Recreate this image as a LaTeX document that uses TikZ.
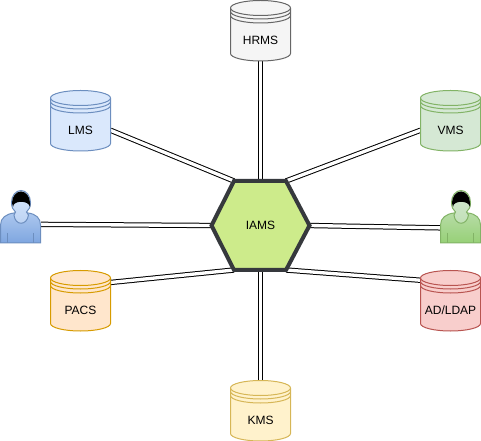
\documentclass[tikz,border=0pt]{standalone}
\usepackage{fontspec}
\setmainfont{Liberation Sans}
\usetikzlibrary{backgrounds}
\definecolor{hrmsfill}{HTML}{F5F5F5}
\definecolor{hrmsline}{HTML}{666666}
\definecolor{lmsfill}{HTML}{DAE8FC}
\definecolor{lmsline}{HTML}{6C8EBF}
\definecolor{vmsfill}{HTML}{D5E8D4}
\definecolor{vmsline}{HTML}{82B366}
\definecolor{pacsfill}{HTML}{FFE6CC}
\definecolor{pacsline}{HTML}{D79B00}
\definecolor{ldapfill}{HTML}{F8CECC}
\definecolor{ldapline}{HTML}{B85450}
\definecolor{kmsfill}{HTML}{FFF2CC}
\definecolor{kmsline}{HTML}{D6B656}
\definecolor{iamsfill}{HTML}{CDEB8B}
\definecolor{iamsline}{HTML}{36393D}
\definecolor{bluebody}{HTML}{7EA6E0}
\definecolor{greenbody}{HTML}{97D077}
\tikzset{
  label text/.style={font=\fontsize{9}{11}\selectfont,inner sep=0pt,outer sep=0pt},
  store box/.style={label text,minimum width=45pt,minimum height=45pt,text height=21pt,text depth=0pt},
  user box/.style={inner sep=0pt,outer sep=0pt,minimum width=30.75pt,minimum height=39.75pt},
  link/.style={draw=black,line width=0.75pt,double=white,double distance=2.5pt},
  hexagon/.style={draw=iamsline,fill=iamsfill,line width=3pt,line join=miter}
}
% name, left, top, fill, line, text
\newcommand{\datastore}[6]{
  \begin{scope}[shift={(#2,#3)}]
    \draw[draw=#5,fill=#4,line width=0.75pt] (0,7.5) arc[start angle=180,end angle=360,x radius=30,y radius=7.5]
      -- (60,53) arc[start angle=0,end angle=180,x radius=30,y radius=7.5] -- cycle;
    \draw[draw=#5,line width=0.75pt] (0,7.5) arc[start angle=180,end angle=0,x radius=30,y radius=7.5];
    \draw[draw=#5,line width=0.75pt] (0,11) arc[start angle=180,end angle=0,x radius=30,y radius=7.5];
    \draw[draw=#5,line width=0.75pt] (0,15) arc[start angle=180,end angle=0,x radius=30,y radius=7.5];
    \node[store box] (#1) at (30,30) {#6};
  \end{scope}
}
% name, left, top, fill, body colour, line
\newcommand{\usericon}[6]{
  \begin{scope}[shift={(#2,#3)}]
    \draw[draw=#6,top color=#4!50!#5,bottom color=#5,line width=0.75pt] (0.5,53) -- (0.5,35)
      .. controls (0.5,28) and (6,24) .. (14,23) -- (28,23) .. controls (36,24) and (40.5,28) .. (40.5,35) -- (40.5,53) -- cycle;
    \draw[draw=#6,line width=0.75pt] (7.5,43) -- (7.5,53) (33.5,43) -- (33.5,53);
    \draw[draw=#6,top color=#4,bottom color=#4!65!#5,line width=0.75pt] (14,25) -- (15.5,22)
      .. controls (13,20) and (11.5,17) .. (11.5,12.5) arc[start angle=180,end angle=360,x radius=9.5,y radius=12]
      .. controls (30.5,17) and (29,20) .. (26.5,22) -- (28.5,25) .. controls (27,36) and (15,36) .. (14,25) -- cycle;
    \fill[black] (12,13) arc[start angle=180,end angle=360,x radius=9,y radius=11.5]
      -- (30,17) .. controls (29,10) and (13,10) .. (13,17) -- cycle;
    \node[user box] (#1) at (20.5,26.5) {};
  \end{scope}
}

\begin{document}
\begin{tikzpicture}[x=0.75pt,y=-0.75pt]
  \useasboundingbox (0,0) rectangle (481,441);
  \coordinate (iamsnw) at (234,181);
  \coordinate (iamsne) at (286,181);
  \coordinate (iamse) at (309.5,225.5);
  \coordinate (iamsse) at (286,270);
  \coordinate (iamssw) at (234,270);
  \coordinate (iamsw) at (211.5,225.5);
  \draw[hexagon] (iamsnw) -- (iamsne) -- (iamse) -- (iamsse) -- (iamssw) -- (iamsw) -- cycle;
  \node[label text,minimum width=73.5pt,minimum height=66.75pt] (iams) at (260.5,225.5) {IAMS};

  \datastore{hrms}{230.5}{0.5}{hrmsfill}{hrmsline}{HRMS}
  \datastore{lms}{50.5}{90.5}{lmsfill}{lmsline}{LMS}
  \datastore{vms}{420.5}{90.5}{vmsfill}{vmsline}{VMS}
  \datastore{pacs}{50.5}{270.5}{pacsfill}{pacsline}{PACS}
  \datastore{ldap}{420.5}{270.5}{ldapfill}{ldapline}{AD/LDAP}
  \datastore{kms}{230.5}{380.5}{kmsfill}{kmsline}{KMS}
  \usericon{userleft}{0}{190}{lmsfill}{bluebody}{lmsline}
  \usericon{userright}{440}{190}{vmsfill}{greenbody}{vmsline}

  \begin{scope}[on background layer]
    \draw[link] (hrms.south) -- (iams.north);
    \draw[link] (kms.north) -- (iams.south);
    \draw[link] (lms.-18.4) -- (iamsnw);
    \draw[link] (vms.198.4) -- (iamsne);
    \draw[link] (pacs.31) -- (iamssw);
    \draw[link] (ldap.146.3) -- (iamsse);
    \draw[link] (userleft.-21.8) -- (iamsw);
    \draw[link] (userright.209.3) -- (iamse);
  \end{scope}
\end{tikzpicture}
\end{document}
